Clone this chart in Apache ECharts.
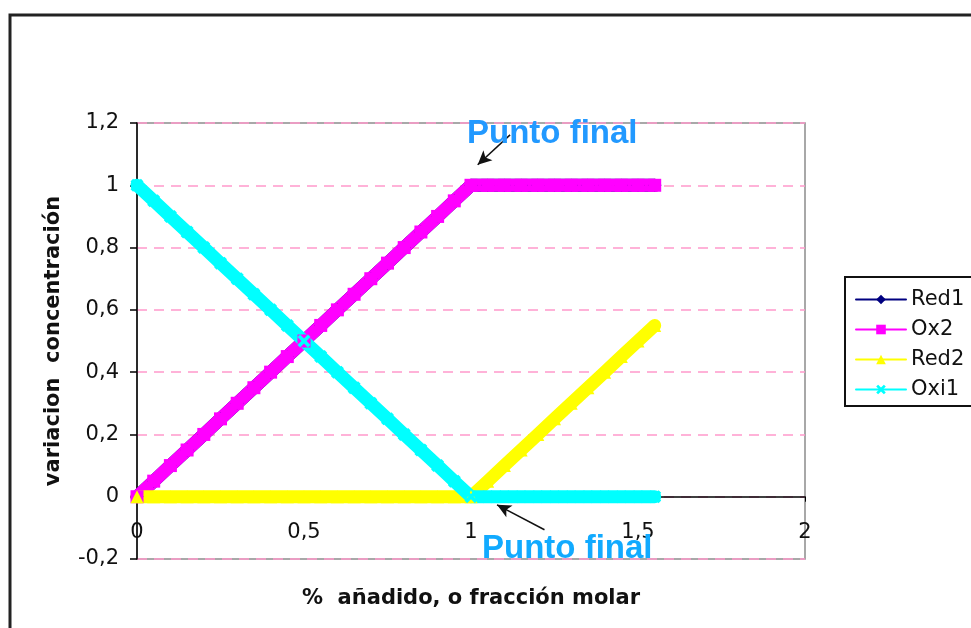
<!DOCTYPE html>
<html>
<head>
<meta charset="utf-8">
<script src="https://cdn.jsdelivr.net/npm/echarts@6/dist/echarts.min.js"></script>
<style>html,body{margin:0;padding:0;background:#fff}#c{width:971px;height:628px}</style>
</head>
<body>
<div id="c"></div>
<script>
// x values (fracción molar añadida)
var xValues = [0, 0.05, 0.1, 0.15, 0.2, 0.25, 0.3, 0.35, 0.4, 0.45, 0.5, 0.55, 0.6, 0.65, 0.7, 0.75, 0.8, 0.85, 0.9, 0.95, 1,
               1.05, 1.1, 1.15, 1.2, 1.25, 1.3, 1.35, 1.4, 1.45, 1.5, 1.55];
var red1 = [0, 0.05, 0.1, 0.15, 0.2, 0.25, 0.3, 0.35, 0.4, 0.45, 0.5, 0.55, 0.6, 0.65, 0.7, 0.75, 0.8, 0.85, 0.9, 0.95, 1,
            1, 1, 1, 1, 1, 1, 1, 1, 1, 1, 1];
var ox2 = [0, 0.05, 0.1, 0.15, 0.2, 0.25, 0.3, 0.35, 0.4, 0.45, 0.5, 0.55, 0.6, 0.65, 0.7, 0.75, 0.8, 0.85, 0.9, 0.95, 1,
           1, 1, 1, 1, 1, 1, 1, 1, 1, 1, 1];
var red2 = [0, 0, 0, 0, 0, 0, 0, 0, 0, 0, 0, 0, 0, 0, 0, 0, 0, 0, 0, 0, 0,
            0.05, 0.1, 0.15, 0.2, 0.25, 0.3, 0.35, 0.4, 0.45, 0.5, 0.55];
var oxi1 = [1, 0.95, 0.9, 0.85, 0.8, 0.75, 0.7, 0.65, 0.6, 0.55, 0.5, 0.45, 0.4, 0.35, 0.3, 0.25, 0.2, 0.15, 0.1, 0.05, 0,
            0, 0, 0, 0, 0, 0, 0, 0, 0, 0, 0];
var seriesNames = ['Red1', 'Ox2', 'Red2', 'Oxi1'];
var xTicks = {min: 0, max: 2, interval: 0.5};
var yTicks = {min: -0.2, max: 1.2, interval: 0.2};
var annotationText = 'Punto final';
var arrowTop = [[1.117, 1.162], [1.02, 1.066]];
var arrowBottom = [[1.22, -0.106], [1.078, -0.026]];

function pairs(ys) { return xValues.map(function (x, i) { return [x, ys[i]]; }); }
function fmt(v) { return String(+Number(v).toFixed(2)).replace('.', ','); }

var xSym = 'path://M0,2L2,0L5,3L8,0L10,2L7,5L10,8L8,10L5,7L2,10L0,8L3,5Z';

function lineSeries(name, ys, color, symbol, extra) {
  var s = {
    name: name, type: 'line', data: pairs(ys),
    symbol: symbol, symbolSize: 13, showSymbol: true,
    lineStyle: {color: color, width: 13, cap: 'round', join: 'round'},
    itemStyle: {color: color},
    emphasis: {disabled: true}, animation: false, z: 3
  };
  for (var k in extra) s[k] = extra[k];
  return s;
}

var chart = echarts.init(document.getElementById('c'), null, {renderer: 'canvas'});
chart.setOption({
  backgroundColor: '#ffffff',
  animation: false,
  grid: {left: 137, right: 166, top: 123, bottom: 69, outerBoundsMode: 'none', containLabel: false,
         show: true, borderColor: '#8c8c8c', borderWidth: 1.5, backgroundColor: 'transparent'},
  xAxis: {
    type: 'value', min: xTicks.min, max: xTicks.max, interval: xTicks.interval,
    name: '%  añadido, o fracción molar', nameLocation: 'middle', nameGap: 29,
    nameTextStyle: {fontFamily: 'DejaVu Sans', fontWeight: 'bold', fontSize: 21, color: '#111'},
    axisLine: {onZero: true, lineStyle: {color: '#000', width: 1.5}},
    axisTick: {show: true, length: 5, lineStyle: {color: '#000'}},
    axisLabel: {margin: -37, formatter: fmt, fontFamily: 'DejaVu Sans', fontSize: 21, color: '#111'},
    splitLine: {show: false}
  },
  yAxis: {
    type: 'value', min: yTicks.min, max: yTicks.max, interval: yTicks.interval,
    name: 'variacion  concentración', nameLocation: 'middle', nameGap: 73,
    nameTextStyle: {fontFamily: 'DejaVu Sans', fontWeight: 'bold', fontSize: 21, color: '#111'},
    axisLine: {show: true, lineStyle: {color: '#000', width: 1.5}},
    axisTick: {show: true, length: 7, lineStyle: {color: '#000', width: 1.5}},
    axisLabel: {margin: 18, formatter: fmt, fontFamily: 'DejaVu Sans', fontSize: 21, color: '#111'},
    splitLine: {show: true, lineStyle: {color: '#ff99cc', width: 1.5, type: [10, 7]}}
  },
  legend: {
    orient: 'vertical', left: 845, top: 277,
    data: seriesNames,
    itemWidth: 50, itemHeight: 12, itemGap: 9,
    padding: [12, 30, 6, 10],
    borderColor: '#111', borderWidth: 2, backgroundColor: '#fff',
    textStyle: {fontFamily: 'DejaVu Sans', fontSize: 21, color: '#111'},
    lineStyle: {width: 2},
    selectedMode: false
  },
  series: [
    lineSeries('Red1', red1, '#000080', 'diamond', {}),
    lineSeries('Ox2', ox2, '#ff00ff', 'rect', {}),
    lineSeries('Red2', red2, '#ffff00', 'triangle', {}),
    lineSeries('Oxi1', oxi1, '#00ffff', xSym, {
      markLine: {
        silent: true, symbol: ['none', 'arrow'], symbolSize: [10, 14],
        lineStyle: {color: '#111', width: 1.5, type: 'solid'},
        label: {show: false},
        data: [
          [{coord: arrowTop[0]}, {coord: arrowTop[1]}],
          [{coord: arrowBottom[0]}, {coord: arrowBottom[1]}]
        ]
      }
    })
  ],
  graphic: [
    {type: 'rect', shape: {x: 10, y: 15, width: 1000, height: 700}, style: {fill: 'none', stroke: '#222', lineWidth: 3}, z: 0, silent: true},
    {type: 'text', left: 467, top: 117, style: {text: annotationText, fill: '#2299ff', font: 'bold 33px "Liberation Sans", Arial, sans-serif'}, z: 10},
    {type: 'text', left: 482, top: 532, style: {text: annotationText, fill: '#11aaff', font: 'bold 33px "Liberation Sans", Arial, sans-serif'}, z: 10}
  ]
});
</script>
</body>
</html>
